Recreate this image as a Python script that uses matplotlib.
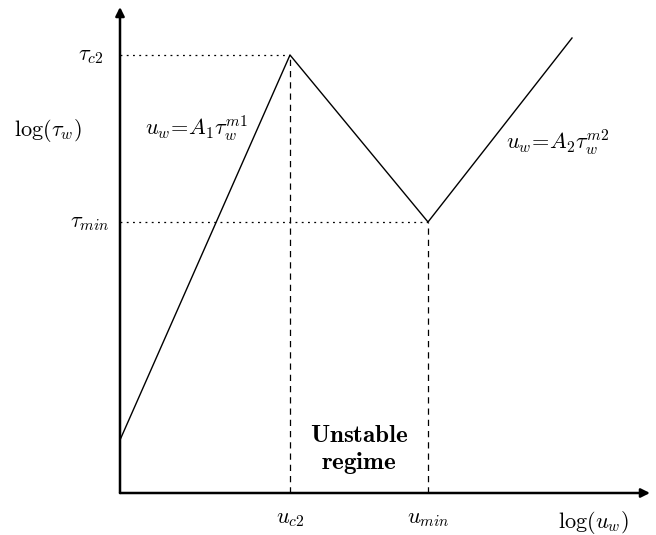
import matplotlib
matplotlib.use("Agg")
import matplotlib.pyplot as plt

plt.rcParams['mathtext.fontset'] = 'cm'
plt.rcParams['font.family'] = 'DejaVu Serif'

# piecewise curve (log u_w, log tau_w) in arbitrary units
curve_x = [0, 170, 308, 452]
curve_y = [53, 438, 271, 455]
# critical points
u_c2, tau_c2 = 170, 438
u_min, tau_min = 308, 271
x_axis_end = 530
y_axis_end = 486

fig = plt.figure(figsize=(6.56, 5.35), dpi=100)
ax = fig.add_axes([0, 0, 1, 1])
ax.set_xlim(-120, 536)
ax.set_ylim(-42, 493)
ax.axis('off')

# axes arrows
ax.annotate('', xy=(x_axis_end, 0), xytext=(0, 0),
            arrowprops=dict(arrowstyle='-|>', lw=1.8, color='black', mutation_scale=13,
                            shrinkA=0, shrinkB=0))
ax.annotate('', xy=(0, y_axis_end), xytext=(0, 0),
            arrowprops=dict(arrowstyle='-|>', lw=1.8, color='black', mutation_scale=13,
                            shrinkA=0, shrinkB=0))

# curve
ax.plot(curve_x, curve_y, color='black', lw=1.0)

# dotted horizontals
ax.plot([0, u_c2], [tau_c2, tau_c2], color='black', lw=0.9, ls=(0, (1.5, 3.5)))
ax.plot([0, u_min], [tau_min, tau_min], color='black', lw=0.9, ls=(0, (1.5, 3.5)))
# dashed verticals
ax.plot([u_c2, u_c2], [0, tau_c2], color='black', lw=0.9, ls=(0, (5, 4)))
ax.plot([u_min, u_min], [0, tau_min], color='black', lw=0.9, ls=(0, (5, 4)))

# labels
ax.text(-29, tau_c2, r'$\tau_{c2}$', fontsize=16, ha='center', va='center')
ax.text(-30, tau_min, r'$\tau_{min}$', fontsize=16, ha='center', va='center')
ax.text(-72, 363, r'$\log(\tau_w)$', fontsize=16, ha='center', va='center')
ax.text(77, 365, r'$u_w\!=\!A_1\tau_w^{m1}$', fontsize=16, ha='center', va='center')
ax.text(438, 351, r'$u_w\!=\!A_2\tau_w^{m2}$', fontsize=16, ha='center', va='center')
ax.text(u_c2, -25, r'$u_{c2}$', fontsize=16, ha='center', va='center')
ax.text(u_min, -25, r'$u_{min}$', fontsize=16, ha='center', va='center')
ax.text(473, -30, r'$\log(u_w)$', fontsize=16, ha='center', va='center')
ax.text(239, 43, r'$\mathbf{Unstable}$' + '\n' + r'$\mathbf{regime}$', fontsize=18,
        ha='center', va='center', linespacing=1.2)

fig.savefig('out.png', dpi=100)
